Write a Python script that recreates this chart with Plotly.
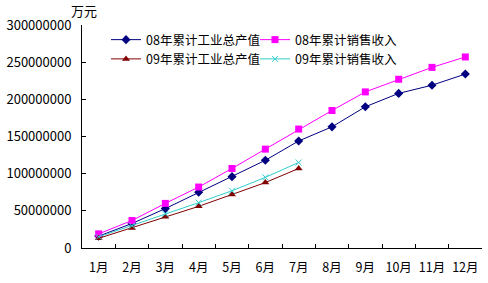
import plotly.graph_objects as go

months = ["1月", "2月", "3月", "4月", "5月", "6月", "7月", "8月", "9月", "10月", "11月", "12月"]
output_08 = [16e6, 33e6, 53e6, 75e6, 96e6, 118e6, 144e6, 163e6, 190e6, 208e6, 219e6, 234e6]
sales_08 = [19e6, 37e6, 60e6, 82e6, 107e6, 133e6, 160e6, 185e6, 210e6, 227e6, 243e6, 257e6]
output_09 = [13e6, 27e6, 42e6, 56e6, 72e6, 88e6, 107e6]
sales_09 = [15e6, 30e6, 46e6, 61e6, 77e6, 95e6, 115e6]
months_09 = months[:7]

font = "Noto Sans CJK SC, DejaVu Sans, sans-serif"

fig = go.Figure()
fig.add_trace(go.Scatter(x=months, y=output_08, name="08年累计工业总产值", mode="lines+markers",
                         line=dict(color="#000080", width=1), marker=dict(symbol="diamond", size=7, color="#000080")))
fig.add_trace(go.Scatter(x=months, y=sales_08, name="08年累计销售收入", mode="lines+markers",
                         line=dict(color="#FF00FF", width=1), marker=dict(symbol="square", size=7, color="#FF00FF")))
fig.add_trace(go.Scatter(x=months_09, y=output_09, name="09年累计工业总产值", mode="lines+markers",
                         line=dict(color="#800000", width=1), marker=dict(symbol="triangle-up", size=7, color="#800000")))
fig.add_trace(go.Scatter(x=months_09, y=sales_09, name="09年累计销售收入", mode="lines+markers",
                         line=dict(color="#33CCCC", width=1), marker=dict(symbol="x-thin", size=6, color="#33CCCC",
                                                                          line=dict(color="#33CCCC", width=1))))

fig.update_layout(
    width=488, height=283,
    margin=dict(l=80, r=6, t=25, b=35),
    paper_bgcolor="white", plot_bgcolor="white",
    font=dict(family=font, size=12, color="black"),
    showlegend=True,
    legend=dict(orientation="h", x=0.06, y=1.0, xanchor="left", yanchor="top",
                entrywidth=104, entrywidthmode="pixels", bgcolor="rgba(0,0,0,0)",
                font=dict(size=12.5), itemwidth=30, tracegroupgap=0),
    xaxis=dict(type="category", range=[-0.5, 11.5], showline=True, linecolor="black", linewidth=1,
               ticks="inside", ticklen=4, tickcolor="black", tickson="boundaries", tickangle=0,
               ticklabelstandoff=8,
               showgrid=False, zeroline=False, tickfont=dict(size=12.5)),
    yaxis=dict(range=[0, 300e6], dtick=50e6, tickformat="d", showline=True, linecolor="black", linewidth=1,
               ticks="inside", ticklen=4, tickcolor="black", showgrid=False, zeroline=False,
               ticklabelstandoff=7, tickfont=dict(size=13)),
    annotations=[dict(text="万元", xref="paper", yref="paper", x=-0.033, y=1.015, xanchor="left", yanchor="bottom",
                      showarrow=False, font=dict(size=13))],
)

fig.write_html("out.html")
